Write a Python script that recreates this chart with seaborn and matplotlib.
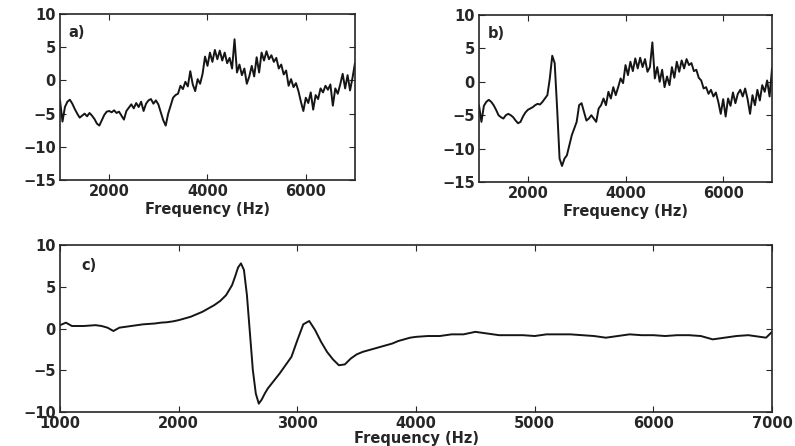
import numpy as np
import pandas as pd
import seaborn as sns
from matplotlib import pyplot as plt

# panel a) and b): values every 50 Hz from 1000 to 7000 Hz
freq_ab = list(range(1000, 7001, 50))

level_a = [
    -3.0, -6.2, -4.0, -3.2, -2.9, -3.5, -4.3, -5.0, -5.6, -5.3,
    -5.0, -5.4, -4.9, -5.3, -5.8, -6.5, -6.8, -6.0, -5.2, -4.7,
    -4.6, -4.8, -4.5, -4.9, -4.7, -5.3, -5.9, -4.6, -4.1, -3.6,
    -4.2, -3.4, -4.0, -3.2, -4.6, -3.5, -3.0, -2.8, -3.5, -3.0,
    -3.6, -4.8, -6.0, -6.8, -5.0, -3.8, -2.6, -2.2, -2.0, -0.8,
    -1.3, -0.2, -0.9, 1.4, -0.6, -1.6, 0.2, -0.5, 1.0, 3.6,
    2.2, 4.2, 2.8, 4.6, 3.2, 4.5, 3.0, 4.2, 2.6, 3.4,
    1.8, 6.2, 1.2, 2.4, 0.8, 1.8, -0.5, 0.6, 2.2, 0.6,
    3.5, 1.2, 4.2, 3.0, 4.4, 3.2, 3.8, 2.8, 3.4, 1.8,
    2.4, 0.9, 1.5, -0.8, 0.2, -1.0, -0.4, -1.6, -3.2, -4.6,
    -2.6, -3.4, -1.8, -4.4, -2.2, -2.8, -1.2, -1.8, -0.8, -1.4,
    -0.6, -3.8, -1.2, -2.0, -0.6, 1.0, -1.2, 0.8, -1.5, 0.4,
    2.6,
]

level_b = [
    -3.5, -6.0, -3.6, -3.0, -2.7, -3.0, -3.5, -4.2, -5.0, -5.3,
    -5.5, -5.0, -4.8, -5.0, -5.3, -5.8, -6.2, -6.0, -5.2, -4.6,
    -4.2, -4.0, -3.8, -3.5, -3.3, -3.4, -3.0, -2.5, -2.0, 0.5,
    3.9, 2.8, -4.0, -11.5, -12.6, -11.5, -11.0, -9.5, -8.0, -7.0,
    -6.0, -3.5, -3.2, -4.5, -5.8, -5.5, -5.0, -5.5, -6.0, -4.0,
    -3.5, -2.5, -3.5, -1.5, -2.5, -0.8, -2.0, -0.8, 0.5, -0.2,
    2.5, 1.0, 3.0, 1.6, 3.5, 2.0, 3.6, 2.2, 3.4, 1.5,
    2.2, 5.9, 0.5, 2.2, 0.0, 1.8, -0.8, 0.8, -0.5, 2.2,
    0.6, 3.0, 1.5, 3.2, 2.0, 3.4, 2.5, 2.8, 1.6, 1.8,
    0.6, 0.2, -1.0, -0.8, -1.8, -1.2, -2.2, -1.6, -3.0, -4.8,
    -2.6, -5.2, -2.5, -3.6, -1.6, -3.2, -1.8, -1.2, -2.2, -1.0,
    -2.6, -4.8, -2.0, -3.5, -1.2, -2.8, -0.5, -1.5, 0.2, -2.2,
    2.0,
]

# panel c): smooth average, denser around the resonance
freq_c = [
    1000, 1050, 1100, 1150, 1200, 1250, 1300, 1350, 1400, 1450,
    1500, 1550, 1600, 1650, 1700, 1750, 1800, 1850, 1900, 1950,
    2000, 2050, 2100, 2150, 2200, 2250, 2300, 2350, 2400, 2450,
    2475, 2500, 2525, 2550, 2575, 2600, 2625, 2650, 2675, 2700,
    2725, 2750, 2800, 2850, 2900, 2950, 3000, 3050, 3100, 3150,
    3200, 3250, 3300, 3350, 3400, 3450, 3500, 3550, 3600, 3650,
    3700, 3750, 3800, 3850, 3900, 3950, 4000, 4100, 4200, 4300,
    4400, 4500, 4600, 4700, 4800, 4900, 5000, 5100, 5200, 5300,
    5400, 5500, 5600, 5700, 5800, 5900, 6000, 6100, 6200, 6300,
    6400, 6500, 6600, 6700, 6800, 6900, 6950, 7000,
]
level_c = [
    0.4, 0.7, 0.3, 0.3, 0.3, 0.35, 0.4, 0.3, 0.1, -0.3,
    0.1, 0.2, 0.3, 0.4, 0.5, 0.55, 0.6, 0.7, 0.75, 0.85,
    1.0, 1.2, 1.4, 1.7, 2.0, 2.4, 2.8, 3.3, 4.0, 5.2,
    6.2, 7.3, 7.8, 7.0, 4.0, -0.5, -5.0, -7.8, -9.0, -8.5,
    -7.8, -7.2, -6.3, -5.4, -4.4, -3.4, -1.4, 0.5, 0.9, -0.2,
    -1.6, -2.8, -3.7, -4.4, -4.3, -3.6, -3.1, -2.8, -2.6, -2.4,
    -2.2, -2.0, -1.8, -1.5, -1.3, -1.1, -1.0, -0.9, -0.9, -0.7,
    -0.7, -0.4, -0.6, -0.8, -0.8, -0.8, -0.9, -0.7, -0.7, -0.7,
    -0.8, -0.9, -1.1, -0.9, -0.7, -0.8, -0.8, -0.9, -0.8, -0.8,
    -0.9, -1.3, -1.1, -0.9, -0.8, -1.0, -1.1, -0.4,
]

sns.set_style("ticks")
plt.rcParams["font.family"] = ["DejaVu Sans"]
plt.rcParams["font.weight"] = "bold"
plt.rcParams["font.size"] = 10.5
plt.rcParams["xtick.direction"] = "in"
plt.rcParams["ytick.direction"] = "in"
plt.rcParams["xtick.top"] = True
plt.rcParams["ytick.right"] = True
plt.rcParams["xtick.major.size"] = 4
plt.rcParams["ytick.major.size"] = 4
plt.rcParams["axes.linewidth"] = 1.2

fig = plt.figure(figsize=(7.95, 4.46), dpi=100)
ax_a = fig.add_axes([0.0755, 0.5964, 0.371, 0.372])
ax_b = fig.add_axes([0.6025, 0.5919, 0.3686, 0.3745])
ax_c = fig.add_axes([0.0755, 0.0762, 0.8956, 0.3745])

df_a = pd.DataFrame({"f": freq_ab[:len(level_a)], "v": level_a})
df_b = pd.DataFrame({"f": freq_ab[:len(level_b)], "v": level_b})
df_c = pd.DataFrame({"f": freq_c, "v": level_c})

for ax, df, tag in [(ax_a, df_a, "a)"), (ax_b, df_b, "b)")]:
    sns.lineplot(data=df, x="f", y="v", ax=ax, color="#151515", linewidth=1.4)
    ax.set_xlim(1000, 7000)
    ax.set_ylim(-15, 10)
    ax.set_xticks([2000, 4000, 6000])
    ax.set_yticks([-15, -10, -5, 0, 5, 10])
    ax.set_xlabel("Frequency (Hz)", fontweight="bold", labelpad=2)
    ax.set_ylabel("")
    ax.text(1180, 7.2, tag, fontweight="bold", fontsize=10.5, va="center")

sns.lineplot(data=df_c, x="f", y="v", ax=ax_c, color="#151515", linewidth=1.4)
ax_c.set_xlim(1000, 7000)
ax_c.set_ylim(-10, 10)
ax_c.set_xticks([1000, 2000, 3000, 4000, 5000, 6000, 7000])
ax_c.set_yticks([-10, -5, 0, 5, 10])
ax_c.set_xlabel("Frequency (Hz)", fontweight="bold", labelpad=0)
ax_c.set_ylabel("")
ax_c.text(1180, 7.6, "c)", fontweight="bold", fontsize=10.5, va="center")

for ax in [ax_a, ax_b, ax_c]:
    ax.tick_params(pad=3, labelsize=10.5)

fig.savefig("out.png", dpi=100)
